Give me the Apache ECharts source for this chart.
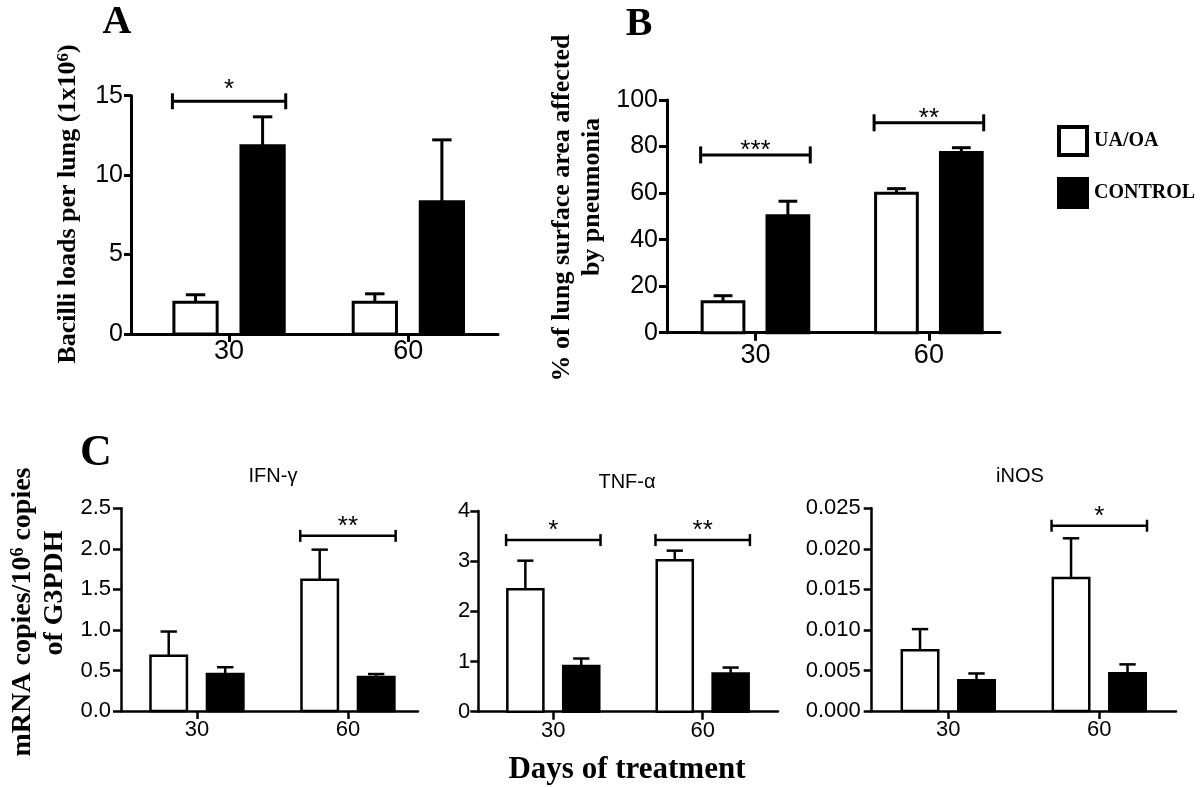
<!DOCTYPE html>
<html><head><meta charset="utf-8">
<script src="https://cdn.jsdelivr.net/npm/echarts@6/dist/echarts.min.js"></script>
<style>html,body{margin:0;padding:0;background:#fff}#c{width:1200px;height:787px}</style>
</head><body><div id="c"></div>
<script>
// ---------------- DATA ----------------
const days = ['30', '60'];
const groupNames = ['UA/OA', 'CONTROL'];

// Panel A: Bacilli loads per lung (1x10^6)
const bacilliUA = [2.0, 2.0];
const bacilliUAErr = [0.47, 0.53];
const bacilliCtrl = [11.85, 8.32];
const bacilliCtrlErr = [1.82, 3.9];
const bacilliSig = [[1, 14.65, '*']];          // [day position, bracket height, label]

// Panel B: % of lung surface area affected by pneumonia
const pneumoniaUA = [13.3, 59.9];
const pneumoniaUAErr = [2.6, 2.0];
const pneumoniaCtrl = [50.3, 77.4];
const pneumoniaCtrlErr = [6.2, 2.1];
const pneumoniaSig = [[1, 76.4, '***'], [2, 90.2, '**']];

// Panel C: IFN-γ
const ifnUA = [0.68, 1.62];
const ifnUAErr = [0.30, 0.37];
const ifnCtrl = [0.456, 0.42];
const ifnCtrlErr = [0.084, 0.036];
const ifnSig = [[2, 2.16, '**']];

// Panel C: TNF-α
const tnfUA = [2.44, 3.02];
const tnfUAErr = [0.57, 0.19];
const tnfCtrl = [0.91, 0.76];
const tnfCtrlErr = [0.15, 0.12];
const tnfSig = [[1, 3.42, '*'], [2, 3.42, '**']];

// Panel C: iNOS
const inosUA = [0.0075, 0.0164];
const inosUAErr = [0.0026, 0.0049];
const inosCtrl = [0.0038, 0.00465];
const inosCtrlErr = [0.00083, 0.0011];
const inosSig = [[2, 0.02285, '*']];

// ---------------- LAYOUT ----------------
const OFF = 0.187, HW = 0.129, CAP = 0.42;
const SERIF = '"Liberation Serif", "Times New Roman", serif';
const SANS = '"Liberation Sans", Arial, sans-serif';

const panels = [
  {grid:{left:131, top:95.7, width:367, height:238.3}, xMin:0.453, xMax:2.5, yMax:15, yInt:5, dec:0,
   ua:bacilliUA, uaErr:bacilliUAErr, ctrl:bacilliCtrl, ctrlErr:bacilliCtrlErr, sig:bacilliSig,
   lw:3, fs:25, xfs:27, yMargin:8, xMargin:4, tickLen:7, bTick:8, starK:11},
  {grid:{left:667, top:100, width:333, height:232.7}, xMin:0.49, xMax:2.41, yMax:100, yInt:20, dec:0,
   ua:pneumoniaUA, uaErr:pneumoniaUAErr, ctrl:pneumoniaCtrl, ctrlErr:pneumoniaCtrlErr, sig:pneumoniaSig,
   lw:3, fs:25, xfs:27, yMargin:9, xMargin:9, tickLen:8, bTick:8.5, starK:4},
  {grid:{left:121, top:508.3, width:297, height:202.7}, xMin:0.497, xMax:2.464, yMax:2.5, yInt:0.5, dec:1,
   ua:ifnUA, uaErr:ifnUAErr, ctrl:ifnCtrl, ctrlErr:ifnCtrlErr, sig:ifnSig,
   lw:2.5, fs:22, xfs:22, yMargin:10, xMargin:8, tickLen:8, bTick:6, starK:9},
  {grid:{left:478.3, top:511, width:299.7, height:200.7}, xMin:0.498, xMax:2.504, yMax:4, yInt:1, dec:0,
   ua:tnfUA, uaErr:tnfUAErr, ctrl:tnfCtrl, ctrlErr:tnfCtrlErr, sig:tnfSig,
   lw:2.5, fs:22, xfs:22, yMargin:8, xMargin:8, tickLen:8, bTick:6, starK:9},
  {grid:{left:871.7, top:508.3, width:304.3, height:202.7}, xMin:0.493, xMax:2.508, yMax:0.025, yInt:0.005, dec:3,
   ua:inosUA, uaErr:inosUAErr, ctrl:inosCtrl, ctrlErr:inosCtrlErr, sig:inosSig,
   lw:2.5, fs:22, xfs:22, yMargin:11, xMargin:8, tickLen:8, bTick:6, starK:9}
];

function barRender(sign, fill, lw) {
  return function (params, api) {
    const pos = api.value(0), v = api.value(1), e = api.value(2);
    const xl = api.coord([pos + sign * OFF - HW, 0])[0];
    const xr = api.coord([pos + sign * OFF + HW, 0])[0];
    const y0 = api.coord([pos, 0])[1];
    const yv = api.coord([pos, v])[1];
    const ye = api.coord([pos, v + e])[1];
    const xc = (xl + xr) / 2;
    const ch = (xr - xl) * CAP / 2;
    return {type: 'group', children: [
      {type: 'rect', shape: {x: xl + lw / 2, y: yv, width: xr - xl - lw, height: y0 - yv},
       style: {fill: fill, stroke: '#000', lineWidth: lw}},
      {type: 'line', shape: {x1: xc, y1: yv, x2: xc, y2: ye}, style: {stroke: '#000', lineWidth: lw}},
      {type: 'line', shape: {x1: xc - ch, y1: ye, x2: xc + ch, y2: ye}, style: {stroke: '#000', lineWidth: lw}}
    ]};
  };
}

function sigRender(p) {
  return function (params, api) {
    const pos = api.value(0), yv = api.value(1);
    const label = p.sig[params.dataIndex][2];
    const xl = api.coord([pos - OFF - HW, 0])[0];
    const xr = api.coord([pos + OFF + HW, 0])[0];
    const y = api.coord([pos, yv])[1];
    const st = {stroke: '#000', lineWidth: p.lw};
    return {type: 'group', children: [
      {type: 'line', shape: {x1: xl, y1: y, x2: xr, y2: y}, style: st},
      {type: 'line', shape: {x1: xl, y1: y - p.bTick, x2: xl, y2: y + p.bTick}, style: st},
      {type: 'line', shape: {x1: xr, y1: y - p.bTick, x2: xr, y2: y + p.bTick}, style: st},
      {type: 'text', x: (xl + xr) / 2, y: y - p.starK,
       style: {text: label, fill: '#000', font: '26px ' + SANS, align: 'center', verticalAlign: 'middle',
               textAlign: 'center', textVerticalAlign: 'middle'}}
    ]};
  };
}

const grids = [], xAxes = [], yAxes = [], series = [];
panels.forEach((p, i) => {
  grids.push(p.grid);
  xAxes.push({type: 'value', gridIndex: i, min: p.xMin, max: p.xMax, splitLine: {show: false},
    axisLine: {show: true, onZero: false, lineStyle: {color: '#000', width: p.lw}},
    axisTick: {show: true, customValues: [1, 2], length: 8, lineStyle: {color: '#000', width: p.lw}},
    axisLabel: {customValues: [1, 2], formatter: v => days[Math.round(v) - 1], color: '#000',
      fontFamily: SANS, fontSize: p.xfs, margin: p.xMargin}});
  yAxes.push({type: 'value', gridIndex: i, min: 0, max: p.yMax, interval: p.yInt, splitLine: {show: false},
    axisLine: {show: true, onZero: false, lineStyle: {color: '#000', width: p.lw}},
    axisTick: {show: true, length: p.tickLen, lineStyle: {color: '#000', width: p.lw}},
    axisLabel: {formatter: v => Number(v).toFixed(p.dec), color: '#000', fontFamily: SANS,
      fontSize: p.fs, margin: p.yMargin}});
  series.push({type: 'custom', name: groupNames[0], xAxisIndex: i, yAxisIndex: i,
    itemStyle: {color: '#fff', borderColor: '#000'},
    renderItem: barRender(-1, '#fff', p.lw),
    data: days.map((d, j) => [j + 1, p.ua[j], p.uaErr[j]])});
  series.push({type: 'custom', name: groupNames[1], xAxisIndex: i, yAxisIndex: i,
    itemStyle: {color: '#000'},
    renderItem: barRender(1, '#000', p.lw),
    data: days.map((d, j) => [j + 1, p.ctrl[j], p.ctrlErr[j]])});
  series.push({type: 'custom', name: 'sig' + i, xAxisIndex: i, yAxisIndex: i,
    renderItem: sigRender(p),
    data: p.sig.map(s => [s[0], s[1]])});
});

function txt(text, x, y, font, rot, rich) {
  const o = {type: 'text', x: x, y: y, rotation: rot || 0,
    style: {text: text, fill: '#000', font: font, align: 'center', verticalAlign: 'middle',
            textAlign: 'center', textVerticalAlign: 'middle'}};
  if (rich) o.style.rich = rich;
  return o;
}
const R = Math.PI / 2;
const supRich = (size, supSize) => ({
  a: {fontFamily: SERIF, fontWeight: 'bold', fontSize: size, fill: '#000', color: '#000'},
  s: {fontFamily: SERIF, fontWeight: 'bold', fontSize: supSize, fill: '#000', color: '#000', verticalAlign: 'top'}
});

const graphics = [
  txt('A', 117, 23, 'bold 40px ' + SERIF),
  txt('B', 639, 25, 'bold 40px ' + SERIF),
  txt('C', 96, 454, 'bold 44px ' + SERIF),
  txt('{a|Bacilli loads per lung (1x10}{s|6}{a|)}', 68, 204, 'bold 26px ' + SERIF, R, supRich(26, 17)),
  txt('% of lung surface area affected', 562, 208, 'bold 26px ' + SERIF, R),
  txt('by pneumonia', 592, 197, 'bold 26px ' + SERIF, R),
  txt('{a|mRNA copies/10}{s|6}{a| copies}', 23, 612, 'bold 28px ' + SERIF, R, supRich(28, 18)),
  txt('of G3PDH', 55, 593, 'bold 28px ' + SERIF, R),
  txt('Days of treatment', 627, 770, 'bold 31px ' + SERIF),
  txt('IFN-γ', 273, 476, '20px ' + SANS),
  txt('TNF-α', 627, 482, '20px ' + SANS),
  txt('iNOS', 1020, 476, '20px ' + SANS)
];

const chart = echarts.init(document.getElementById('c'), null, {renderer: 'canvas'});
chart.setOption({
  animation: false,
  backgroundColor: '#fff',
  grid: grids,
  xAxis: xAxes,
  yAxis: yAxes,
  series: series,
  legend: {
    orient: 'vertical', left: 1057, top: 125, padding: 0, itemWidth: 28, itemHeight: 28, itemGap: 20,
    icon: 'rect', selectedMode: false,
    textStyle: {fontFamily: SERIF, fontWeight: 'bold', fontSize: 20, color: '#000', padding: [0, 0, 0, 2]},
    data: [
      {name: groupNames[0], itemStyle: {color: '#fff', borderColor: '#000', borderWidth: 4}},
      {name: groupNames[1], itemStyle: {color: '#000', borderColor: '#000', borderWidth: 4}}
    ]
  },
  graphic: graphics
});
</script>
</body></html>
